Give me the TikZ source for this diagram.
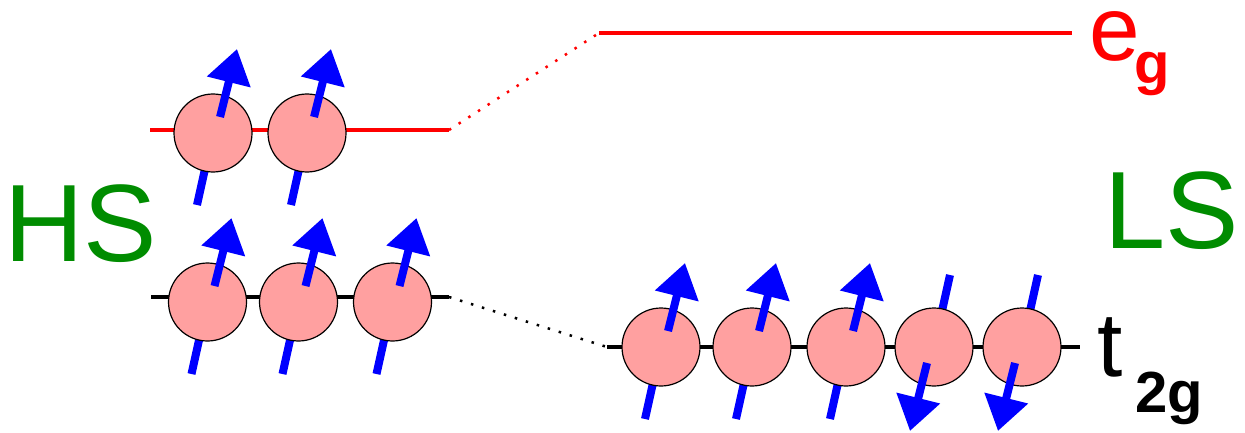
\documentclass[tikz,border=0pt]{standalone}
\usepackage{fontspec}
\setmainfont{Liberation Sans}
\usetikzlibrary{arrows.meta, calc}

\definecolor{ballpink}{RGB}{255,160,160}
\definecolor{hsgreen}{RGB}{0,140,0}

\begin{document}
\begin{tikzpicture}[x=1pt, y=1pt,
          ball/.style={circle, draw=black, line width=1.2pt, fill=ballpink, minimum size=78pt, inner sep=0pt},
          level/.style={line width=4.5pt},
          dotline/.style={line width=2.5pt, dash pattern=on 2.5pt off 9pt},
          spintail/.style={blue, line width=8pt},
          spin/.style={blue, line width=8pt, -{Triangle[length=34pt, width=43pt]}},
          bigtext/.style={anchor=base west, inner sep=0pt, font=\fontsize{110}{110}\selectfont, text=hsgreen},
          orbital/.style={anchor=base west, inner sep=0pt, text height=50pt, font=\fontsize{91}{91}\selectfont}]
        \useasboundingbox (0,0) rectangle (1245,432);

        \coordinate (hseL) at (150,302);
        \coordinate (hseR) at (449,302);
        \coordinate (hstL) at (151,135);
        \coordinate (hstR) at (449,135);
        \coordinate (lseL) at (599,399);
        \coordinate (lseR) at (1072,399);
        \coordinate (lstL) at (607,85);
        \coordinate (lstR) at (1080,85);

        \draw [level, red] (hseL) -- (hseR);
        \draw [level, red] (lseL) -- (lseR);
        \draw [level] (hstL) -- (hstR);
        \draw [level] (lstL) -- (lstR);
        \draw [dotline, red] (hseR) -- (lseL);
        \draw [dotline] (hstR) -- (lstL);

        \foreach \n/\x/\y in {hse1/213/299, hse2/307/299, hst1/207.5/130, hst2/298.5/130, hst3/392.5/130, lst1/661/85, lst2/752/85, lst3/846/85} {
          \draw [spintail] (\x-16,\y-72) -- (\x,\y);
          \node [ball] (\n) at (\x,\y) {};
          \draw [spin] ($(\n)+(7,16)$) -- ++(17,68);
        }
        \foreach \n/\x in {lst4/934, lst5/1022} {
          \draw [spintail] (\x+16,85+72) -- (\x,85);
          \node [ball] (\n) at (\x,85) {};
          \draw [spin] ($(\n)+(-7,-16)$) -- ++(-17,-68);
        }

        \node [bigtext] (hs) at (4,171) {HS};
        \node [bigtext] (ls) at (1104,184) {LS};
        \node [orbital, text=red] (eg) at (1089,371) {e\kern-5pt\raisebox{-23pt}{\fontsize{58}{58}\selectfont\bfseries g}};
        \node [orbital] (t2g) at (1097.5,56) {t\kern12.5pt\raisebox{-36pt}{\fontsize{58}{58}\selectfont\bfseries 2g}};
      \end{tikzpicture}
\end{document}
